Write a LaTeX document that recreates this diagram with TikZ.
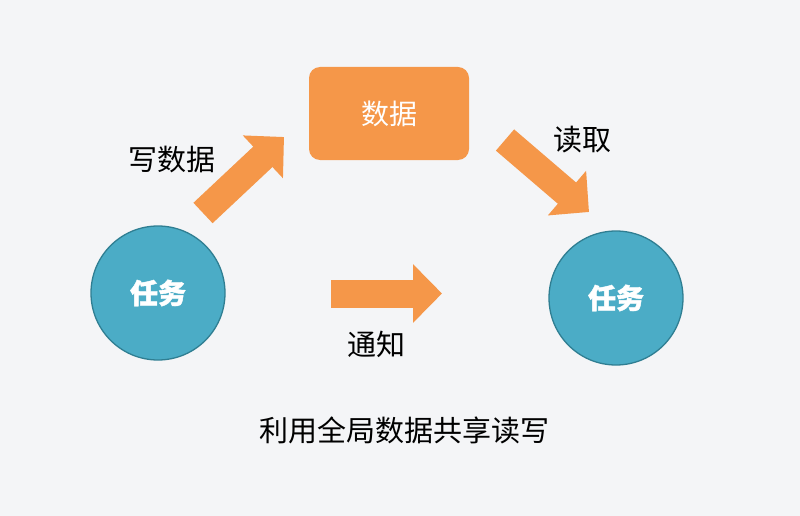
\documentclass[tikz,border=0pt]{standalone}
\usepackage{fontspec}
\setmainfont{Noto Sans CJK SC}
\newfontfamily\cjk{Noto Sans CJK SC}
\newfontfamily\cjkgras[BoldFeatures={FakeBold=1.5}]{Noto Sans CJK SC}
\usetikzlibrary{arrows.meta}
\definecolor{orangebloc}{HTML}{F59749}
\definecolor{bleutache}{HTML}{4BACC6}
\definecolor{bleubord}{HTML}{2F7E92}
\definecolor{fond}{HTML}{F4F5F7}

\begin{document}
\begin{tikzpicture}[x=1pt, y=-1pt]
\tikzset{tache/.style={draw=bleubord, line width=1.3pt, fill=bleutache, circle, minimum size=134pt, inner sep=0pt, text=white, font=\cjkgras\bfseries\fontsize{28}{32}\selectfont},
donnee/.style={fill=orangebloc, rounded corners=11pt, minimum width=160pt, minimum height=93pt, text=white, font=\cjk\fontsize{28}{32}\selectfont},
etiquette/.style={text=black, font=\cjk\fontsize{29}{34}\selectfont, inner sep=0pt},
fleche/.style={orangebloc, line width=28pt, -{Triangle[length=29pt, width=57pt]}}}
\fill[fond] (0,0) rectangle (800,516);
\useasboundingbox (0,0) rectangle (800,516);
\node[tache] (T1) at (158,293) {任务};
\node[tache] (T2) at (616,298) {任务};
\node[donnee] (D) at (389,113.5) {数据};
\coordinate (E1) at (203,213);
\coordinate (E2) at (284,137);
\coordinate (L1) at (505,140);
\coordinate (L2) at (589,212);
\coordinate (N1) at (331,293.5);
\coordinate (N2) at (442,293.5);
\draw[fleche] (E1) -- (E2);
\draw[fleche] (L1) -- (L2);
\draw[fleche] (N1) -- (N2);
\node[etiquette] (ecrire) at (172,160) {写数据};
\node[etiquette] (lire) at (582,140) {读取};
\node[etiquette] (notif) at (376,344) {通知};
\node[etiquette] (titre) at (404,430) {利用全局数据共享读写};
\end{tikzpicture}
\end{document}
